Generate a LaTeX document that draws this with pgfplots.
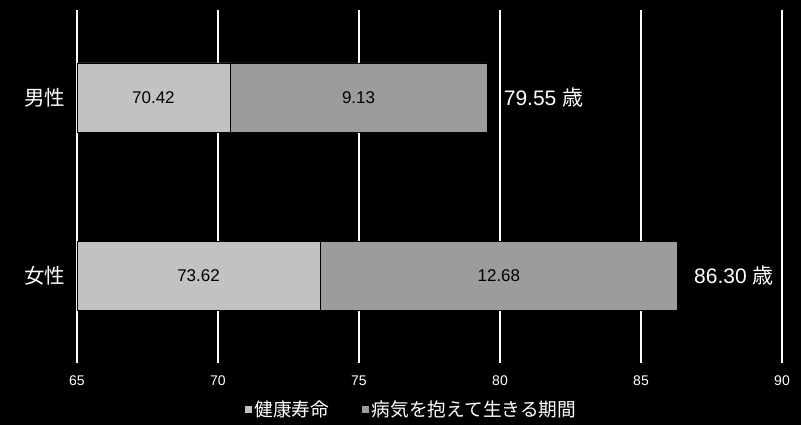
\documentclass[border=0pt]{standalone}
\usepackage{fontspec}
\usepackage{pgfplots}
\pgfplotsset{compat=1.18}
\usepackage{pgfplotstable}
\usetikzlibrary{backgrounds}
\setmainfont{Liberation Sans}
\newfontfamily\jp{Noto Sans CJK JP}
\definecolor{healthy}{gray}{0.76}
\definecolor{illness}{gray}{0.61}

% pos 0 = 女性, pos 1 = 男性
\pgfplotstableread{
pos healthy ill total
0 73.62 12.68 86.30
1 70.42 9.13 79.55
}\lifedata

\begin{document}
\begin{tikzpicture}[x=1pt,y=1pt]
\begin{axis}[
  name=ax, at={(77pt,62pt)}, anchor=south west,
  width=705pt, height=353pt, scale only axis,
  xmin=65, xmax=90, ymin=-0.49, ymax=1.49,
  xtick={65,70,...,90}, ytick={0,1},
  yticklabels={{\jp 女性},{\jp 男性}},
  axis line style={draw=none},
  xmajorgrids, grid style={white, line width=1.3pt},
  major tick length=0pt,
  /pgf/number format/assume math mode=true,
  tick label style={text=white},
  xticklabel style={font=\fontsize{14}{16}\selectfont, yshift=-9pt},
  yticklabel style={font=\fontsize{20.5}{22}\selectfont, xshift=-8pt},
  legend style={at={(0.474,-0.13)}, anchor=center, draw=none, fill=none,
    text=white, font=\jp\fontsize{18.7}{20}\selectfont,
    legend columns=2, /tikz/every even column/.append style={column sep=30pt}},
  legend image code/.code={\fill[#1] (-2pt,-4pt) rectangle (6pt,4pt);},
  nodes near coords={\pgfmathprintnumber[fixed,fixed zerofill,precision=2]{\pgfplotspointmeta}},
]
% illness segment: drawn as the full bar up to the total
\addplot[xbar, bar width=69pt, bar shift=0pt, fill=illness, draw=black, line width=0.6pt,
  forget plot, point meta=explicit,
  visualization depends on={\thisrow{ill} \as \segw},
  nodes near coords style={anchor=center, text=black, font=\fontsize{17}{19}\selectfont,
    xshift={-\segw*14.1pt}}]
  table[x=total, y=pos, meta=ill] {\lifedata};
% healthy segment on top
\addplot[xbar, bar width=69pt, bar shift=0pt, fill=healthy, draw=black, line width=0.6pt,
  forget plot, point meta=explicit,
  visualization depends on={\thisrow{healthy} \as \segw},
  nodes near coords style={anchor=center, text=black, font=\fontsize{17}{19}\selectfont,
    xshift={-(\segw-65)*14.1pt}}]
  table[x=healthy, y=pos, meta=healthy] {\lifedata};
% totals beside the bars
\addplot[xbar, bar width=69pt, bar shift=0pt, draw=none, fill=none,
  forget plot, point meta=explicit,
  nodes near coords={\pgfmathprintnumber[fixed,fixed zerofill,precision=2]{\pgfplotspointmeta} {\jp 歳}},
  nodes near coords style={anchor=west, text=white, font=\fontsize{21}{23}\selectfont, xshift=13pt}]
  table[x=total, y=pos, meta=total] {\lifedata};
\addlegendimage{fill=healthy}
\addlegendentry{健康寿命}
\addlegendimage{fill=illness}
\addlegendentry{病気を抱えて生きる期間}
\end{axis}
\begin{pgfonlayer}{background}
  \fill[black] ([xshift=-77pt,yshift=-62pt]ax.south west) rectangle ++(801pt,425pt);
\end{pgfonlayer}
\end{tikzpicture}
\end{document}
